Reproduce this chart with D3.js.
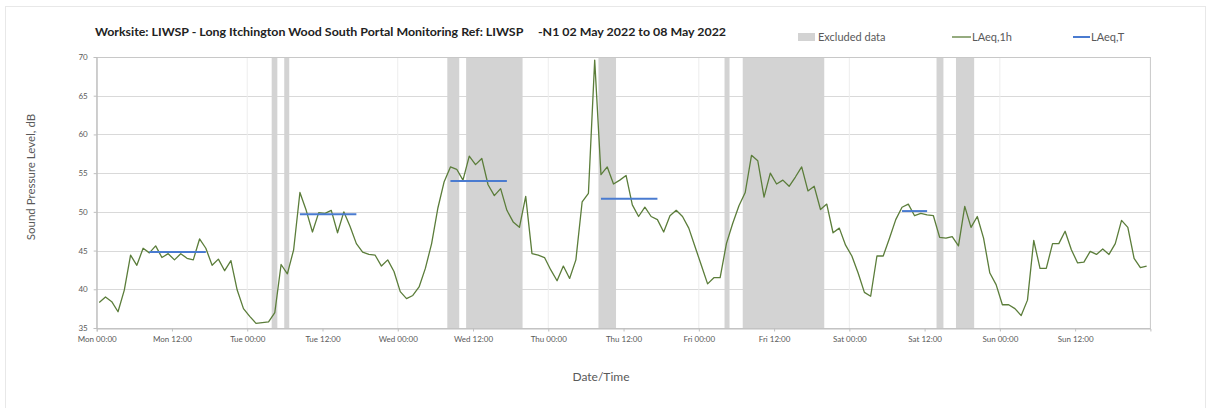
<!DOCTYPE html>
<html>
<head>
<meta charset="utf-8">
<script src="https://cdn.jsdelivr.net/npm/d3@7/dist/d3.min.js"></script>
<style>
  html, body { margin: 0; padding: 0; background: #fff; }
  svg { display: block; font-family: Lato, "Noto Sans", sans-serif; }
</style>
</head>
<body>
<svg id="chart" width="1208" height="408"></svg>
<script>
// ---- Data ----
const titleText = "Worksite: LIWSP - Long Itchington Wood South Portal Monitoring Ref: LIWSP     -N1 02 May 2022 to 08 May 2022";
const yAxisTitle = "Sound Pressure Level, dB";
const xAxisTitle = "Date/Time";
const legendLabels = ["Excluded data", "LAeq,1h", "LAeq,T"];

// hourly LAeq,1h values, Mon 02 May 2022 00:00 onwards (168 hours)
const laeq1h = [
  38.3, 39.0, 38.4, 37.1, 39.9, 44.4, 43.1, 45.3, 44.7, 45.6, 44.1, 44.6,
  43.8, 44.6, 44.0, 43.8, 46.5, 45.3, 43.1, 43.9, 42.4, 43.7, 39.9, 37.5,
  36.5, 35.6, 35.7, 35.8, 37.0, 43.2, 42.0, 45.1, 52.5, 50.2, 47.4, 49.9,
  49.8, 50.2, 47.3, 50.0, 48.1, 45.9, 44.8, 44.5, 44.4, 43.0, 43.8, 42.3,
  39.7, 38.8, 39.2, 40.3, 42.7, 45.9, 50.5, 53.9, 55.8, 55.5, 54.1, 57.2,
  56.1, 56.9, 53.5, 52.1, 53.0, 50.2, 48.7, 48.0, 52.0, 44.6, 44.4, 44.1,
  42.5, 41.1, 43.0, 41.4, 43.8, 51.3, 52.4, 69.6, 54.8, 55.8, 53.6, 54.1,
  54.7, 50.9, 49.4, 50.6, 49.4, 49.0, 47.4, 49.5, 50.2, 49.4, 47.9, 45.5,
  43.1, 40.7, 41.5, 41.5, 45.9, 48.5, 50.8, 52.5, 57.3, 56.6, 51.9, 55.0,
  53.6, 54.1, 53.3, 54.5, 55.8, 52.7, 53.3, 50.3, 51.0, 47.3, 47.9, 45.7,
  44.3, 42.1, 39.6, 39.1, 44.3, 44.3, 46.6, 49.0, 50.6, 51.0, 49.5, 49.8,
  49.6, 49.5, 46.7, 46.6, 46.8, 45.6, 50.7, 48.0, 49.4, 46.6, 42.1, 40.6,
  38.0, 38.0, 37.5, 36.6, 38.6, 46.3, 42.7, 42.7, 45.9, 45.9, 47.5, 45.1,
  43.4, 43.5, 44.9, 44.5, 45.2, 44.5, 45.9, 48.9, 48.0, 44.0, 42.8, 43.0
];

// LAeq,T working-period lines: first and last hourly point index, value
const laeqTFrom  = [8, 32, 56, 80, 128];
const laeqTTo    = [17, 41, 65, 89, 132];
const laeqTValue = [44.8, 49.7, 54.0, 51.7, 50.1];

// Excluded data bands, hours after Mon 00:00
const excludedFrom = [27.9, 29.9, 55.9, 58.9, 80.0, 100.1, 103.0, 133.9, 137.0];
const excludedTo   = [28.8, 30.7, 57.8, 67.9, 82.8, 100.9, 116.0, 135.0, 139.9];

const yTicks = [35, 40, 45, 50, 55, 60, 65, 70];
const dayNames = ["Mon", "Tue", "Wed", "Thu", "Fri", "Sat", "Sun"];

// ---- Layout ----
const svg = d3.select("#chart");
const W = 1208, H = 408;
const plot = { left: 96.7, right: 1150.4, top: 57, bottom: 328 };

const start = new Date(2022, 4, 2, 0, 0);
const end = new Date(2022, 4, 9, 0, 0);
const pointOffsetMin = 24; // points are plotted at hh:24
const hourToDate = h => new Date(start.getTime() + h * 3600e3);
const pointDate = k => new Date(start.getTime() + k * 3600e3 + pointOffsetMin * 60e3);

const x = d3.scaleTime().domain([start, end]).range([plot.left, plot.right]);
const y = d3.scaleLinear().domain([35, 70]).range([plot.bottom, plot.top]);

svg.append("rect").attr("width", W).attr("height", H).attr("fill", "#fff");
svg.append("rect").attr("x", 5.5).attr("y", 6.5).attr("width", 1200).attr("height", 410)
  .attr("fill", "none").attr("stroke", "#e8e8e8");

// horizontal gridlines
svg.append("g").selectAll("line").data(yTicks).join("line")
  .attr("x1", plot.left).attr("x2", plot.right)
  .attr("y1", d => Math.round(y(d)) + 0.5).attr("y2", d => Math.round(y(d)) + 0.5)
  .attr("stroke", "#d9d9d9").attr("stroke-width", 1);

// vertical gridlines each day
const dayTicks = d3.timeDay.range(start, end, 1).slice(1);
svg.append("g").selectAll("line").data(dayTicks).join("line")
  .attr("x1", d => x(d)).attr("x2", d => x(d))
  .attr("y1", plot.top).attr("y2", plot.bottom)
  .attr("stroke", "#ededed").attr("stroke-width", 1);

// excluded bands
svg.append("g").selectAll("rect").data(excludedFrom.map((f, i) => [f, excludedTo[i]])).join("rect")
  .attr("x", d => x(hourToDate(d[0])))
  .attr("width", d => x(hourToDate(d[1])) - x(hourToDate(d[0])))
  .attr("y", plot.top).attr("height", plot.bottom - plot.top)
  .attr("fill", "#d3d3d3");

// plot border
svg.append("rect").attr("x", plot.left).attr("y", plot.top + 0.5)
  .attr("width", plot.right - plot.left).attr("height", plot.bottom - plot.top)
  .attr("fill", "none").attr("stroke", "#c8c8c8");

// LAeq,1h line
const line = d3.line().x((d, i) => x(pointDate(i))).y(d => y(d));
svg.append("path").datum(laeq1h).attr("d", line)
  .attr("fill", "none").attr("stroke", "#5b7d3a").attr("stroke-width", 1.3)
  .attr("stroke-linejoin", "round");

// LAeq,T lines
svg.append("g").selectAll("line").data(laeqTValue.map((v, i) => ({ v, a: laeqTFrom[i], b: laeqTTo[i] }))).join("line")
  .attr("x1", d => x(pointDate(d.a))).attr("x2", d => x(pointDate(d.b)))
  .attr("y1", d => y(d.v)).attr("y2", d => y(d.v))
  .attr("stroke", "#4a7bd0").attr("stroke-width", 2);

// x axis
const xTickDates = d3.timeHour.range(start, end, 12);
const xAxis = d3.axisBottom(x).tickValues(xTickDates)
  .tickFormat(d => dayNames[(d.getDay() + 6) % 7] + " " + d3.timeFormat("%H:%M")(d))
  .tickSize(3).tickPadding(5);
const gx = svg.append("g").attr("transform", `translate(0,${plot.bottom + 0.5})`).call(xAxis);
gx.select(".domain").attr("stroke", "#bfbfbf");
gx.selectAll(".tick line").attr("stroke", "#bfbfbf");
gx.selectAll(".tick text").attr("fill", "#595959").attr("font-size", 8)
  .attr("font-family", "Lato, 'Noto Sans', sans-serif");

// y axis
const yAxis = d3.axisLeft(y).tickValues(yTicks).tickSize(3).tickPadding(6);
const gy = svg.append("g").attr("transform", `translate(${plot.left},0)`).call(yAxis);
gy.select(".domain").attr("stroke", "#bfbfbf");
gy.selectAll(".tick line").attr("stroke", "#bfbfbf");
gy.selectAll(".tick text").attr("fill", "#595959").attr("font-size", 8)
  .attr("font-family", "Lato, 'Noto Sans', sans-serif");

// axis titles
svg.append("text").attr("transform", "translate(35,177) rotate(-90)")
  .attr("text-anchor", "middle").attr("font-size", 11.5).attr("fill", "#595959")
  .text(yAxisTitle);
svg.append("text").attr("x", 601).attr("y", 381)
  .attr("text-anchor", "middle").attr("font-size", 12).attr("fill", "#595959")
  .text(xAxisTitle);

// title
svg.append("text").attr("x", 95).attr("y", 36)
  .attr("font-size", 11).attr("font-weight", "bold").attr("fill", "#222")
  .attr("xml:space", "preserve").style("white-space", "pre")
  .attr("textLength", 631).attr("lengthAdjust", "spacingAndGlyphs")
  .text(titleText);

// legend
const lg = svg.append("g").attr("font-size", 11).attr("fill", "#595959");
lg.append("rect").attr("x", 798).attr("y", 33).attr("width", 17).attr("height", 8).attr("fill", "#d3d3d3");
lg.append("text").attr("x", 818).attr("y", 41).attr("fill", "#595959").text(legendLabels[0]);
lg.append("line").attr("x1", 952).attr("x2", 971).attr("y1", 37).attr("y2", 37)
  .attr("stroke", "#5b7d3a").attr("stroke-width", 1.3);
lg.append("text").attr("x", 972).attr("y", 41).attr("fill", "#595959").text(legendLabels[1]);
lg.append("line").attr("x1", 1073).attr("x2", 1090).attr("y1", 37).attr("y2", 37)
  .attr("stroke", "#4a7bd0").attr("stroke-width", 2);
lg.append("text").attr("x", 1091).attr("y", 41).attr("fill", "#595959").text(legendLabels[2]);
</script>
</body>
</html>
